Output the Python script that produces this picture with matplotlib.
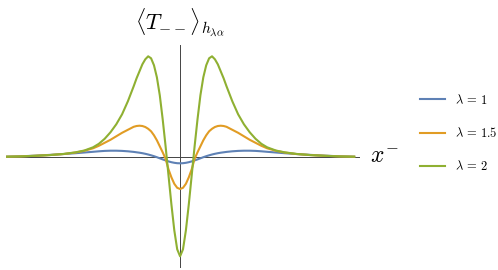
import matplotlib
matplotlib.use("Agg")
import matplotlib.pyplot as plt

plt.rcParams["mathtext.fontset"] = "cm"

# ── data (x^- in arbitrary units, <T--> scaled) ──
# right half only is listed; the plotted curves are even in x^-
x_half = [0.0, 0.1, 0.2, 0.3, 0.4, 0.5, 0.6, 0.7, 0.8, 0.9, 1.0, 1.1, 1.2, 1.3,
          1.4, 1.5, 1.6, 1.8, 2.0, 2.2, 2.4, 2.6, 2.8, 3.0, 3.3, 3.6, 4.0, 4.5,
          5.0, 5.5, 6.0]

t_lam1_half = [-0.060, -0.059, -0.055, -0.049, -0.041, -0.031, -0.021, -0.010,
               0.001, 0.011, 0.020, 0.028, 0.035, 0.041, 0.046, 0.050, 0.054,
               0.060, 0.064, 0.066, 0.066, 0.064, 0.060, 0.055, 0.048, 0.041,
               0.033, 0.024, 0.016, 0.010, 0.006]

t_lam15_half = [-0.317, -0.305, -0.265, -0.200, -0.120, -0.015, 0.050, 0.110,
                0.170, 0.220, 0.260, 0.285, 0.303, 0.313, 0.316, 0.313, 0.305,
                0.275, 0.245, 0.210, 0.175, 0.145, 0.115, 0.090, 0.065, 0.048,
                0.033, 0.022, 0.015, 0.009, 0.006]

t_lam2_half = [-0.990, -0.920, -0.730, -0.470, -0.180, 0.110, 0.380, 0.620,
               0.800, 0.920, 0.990, 1.010, 0.980, 0.930, 0.860, 0.790, 0.710,
               0.560, 0.430, 0.330, 0.250, 0.185, 0.135, 0.100, 0.068, 0.050,
               0.034, 0.022, 0.015, 0.009, 0.006]


def mirror(xs, ys):
    return [-v for v in xs[:0:-1]] + xs, ys[:0:-1] + ys


series = [
    (t_lam1_half, r"$\lambda\,=\,1$", "#5E81B5"),
    (t_lam15_half, r"$\lambda\,=\,1.5$", "#E19C24"),
    (t_lam2_half, r"$\lambda\,=\,2$", "#8FB032"),
]

# ── figure ─────────────────────────────────────────────────────────
fig = plt.figure(figsize=(4.98, 2.70), dpi=100)
ax = fig.add_axes([6 / 498, 2 / 270, 354 / 498, 223 / 270])

ax.axhline(0, color="#444444", lw=0.7, zorder=1)
ax.axvline(0, color="#444444", lw=0.7, zorder=1)

for vals, label, color in series:
    xs, ys = mirror(x_half, vals)
    ax.plot(xs, ys, color=color, lw=1.5, label=label, zorder=3)

ax.set_xlim(-6.0, 6.2)
ax.set_ylim(-1.107, 1.123)
for s in ax.spines.values():
    s.set_visible(False)
ax.set_xticks([])
ax.set_yticks([])

fig.text(180 / 498, 1 - 23 / 270, r"$\langle T_{--}\rangle_{h_{\lambda\alpha}}$",
         fontsize=16, ha="center", va="center")
fig.text(370 / 498, 1 - 156 / 270, r"$x^{-}$", fontsize=17, ha="left", va="center")

fig.legend(loc="center left", bbox_to_anchor=(409 / 498, 1 - 133 / 270),
           frameon=False, fontsize=9, handlelength=2.0, handletextpad=0.8,
           labelspacing=1.55)

fig.savefig("out.png", dpi=100)
